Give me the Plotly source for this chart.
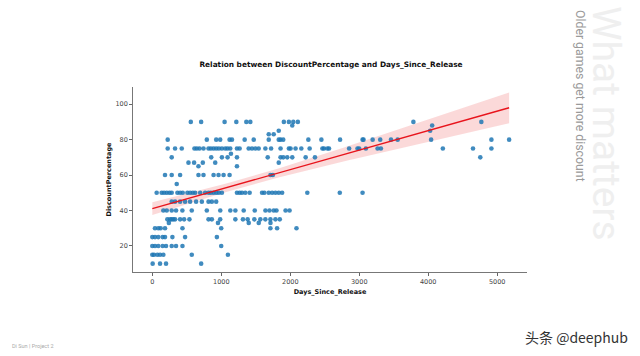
import numpy as np
import plotly.graph_objects as go

# ---- data (days since release, discount %) ----
d90 = [558, 708, 1048, 1218, 1363, 1421, 1907, 1980, 2044, 2110, 3785, 4770]
d88 = [2029, 4057]
d85 = [1833, 4028]
d83 = [1688, 1760]
d80 = [223, 790, 926, 984, 1120, 1155, 1339, 1470, 1688, 1833, 1859, 1898, 2262, 2451,
       2722, 3048, 3062, 3194, 3304, 3460, 3557, 4042, 4916, 5173]
d75 = [223, 330, 427, 611, 645, 684, 742, 815, 849, 888, 926, 965, 1009, 1057, 1091, 1130,
       1227, 1266, 1397, 1445, 1494, 1542, 1639, 1722, 1859, 1980, 2004, 2077, 2160, 2281,
       2466, 2489, 2539, 2562, 2853, 2975, 2999, 3096, 3266, 3314, 4212, 4649, 4916]
d72 = [1140]
d70 = [281, 854, 1009, 1091, 1227, 1673, 1859, 1898, 1956, 2029, 2223, 2358, 4755]
d67 = [524, 606, 732, 912, 1833]
d65 = [669, 1227]
d60 = [184, 281, 403, 669, 742, 888, 960, 1033, 1120, 1713, 1747]
d55 = [354]
d50 = [63, 136, 170, 209, 248, 281, 364, 403, 441, 509, 548, 587, 621, 694, 766, 815, 849,
       888, 926, 965, 1009, 1227, 1266, 1300, 1348, 1411, 1591, 1625, 1688, 1737, 1785,
       1833, 1882, 2247, 2718, 3048]
d45 = [281, 330, 403, 475, 548, 635, 718, 815, 863, 926]
d40 = [160, 209, 281, 344, 436, 572, 790, 985, 1131, 1204, 1325, 1485, 1640, 1699, 1761,
       1800, 1932, 1990]
d35 = [218, 257, 281, 305, 330, 403, 461, 538, 815, 863, 984, 1204, 1314, 1382, 1479,
       1566, 1639, 1712, 1785, 1848]
d33 = [240, 952, 1398, 1543, 1713]
d30 = [39, 87, 121, 184, 437, 999, 1712, 1809, 2090]
d25 = [0, 39, 87, 150, 184, 291, 475, 936]
d20 = [0, 39, 87, 150, 199, 281, 344, 437, 999]
d15 = [0, 24, 73, 112, 160, 572, 1096]
d10 = [5, 112, 199, 708]

groups = [(90, d90), (88, d88), (85, d85), (83, d83), (80, d80), (75, d75), (72, d72),
          (70, d70), (67, d67), (65, d65), (60, d60), (55, d55), (50, d50), (45, d45),
          (40, d40), (35, d35), (33, d33), (30, d30), (25, d25), (20, d20), (15, d15),
          (10, d10)]

x_ticks = [0, 1000, 2000, 3000, 4000, 5000]
y_ticks = [20, 40, 60, 80, 100]

days = np.array([d for v, ds in groups for d in ds], dtype=float)
disc = np.array([v for v, ds in groups for d in ds], dtype=float)

# ---- linear regression with 95% confidence band ----
slope, intercept = np.polyfit(days, disc, 1)
xs = np.linspace(days.min(), days.max(), 100)
ys = intercept + slope * xs
n = len(days)
resid = disc - (intercept + slope * days)
s = np.sqrt(np.sum(resid ** 2) / (n - 2))
sxx = np.sum((days - days.mean()) ** 2)
se = s * np.sqrt(1.0 / n + (xs - days.mean()) ** 2 / sxx)
upper = ys + 1.96 * se
lower = ys - 1.96 * se

fig = go.Figure()
fig.add_trace(go.Scatter(x=xs, y=upper, mode="lines", line=dict(width=0),
                         hoverinfo="skip", showlegend=False))
fig.add_trace(go.Scatter(x=xs, y=lower, mode="lines", line=dict(width=0), fill="tonexty",
                         fillcolor="rgba(230,30,30,0.17)", hoverinfo="skip", showlegend=False))
fig.add_trace(go.Scatter(x=days, y=disc, mode="markers",
                         marker=dict(size=4.6, color="#1f77b4", opacity=0.85, line=dict(width=0)),
                         showlegend=False))
fig.add_trace(go.Scatter(x=xs, y=ys, mode="lines", line=dict(color="#e8141c", width=1.4),
                         showlegend=False))

L, R, T, B = 133, 113, 87, 84
pw, ph = 640 - L - R, 356 - T - B

def px(xp):
    return (xp - L) / pw

def py(yp):
    return (356 - B - yp) / ph

axis_font = dict(family="DejaVu Sans", size=6.5, color="#444")
fig.update_layout(
    width=640, height=356,
    margin=dict(l=L, r=R, t=T, b=B),
    paper_bgcolor="white", plot_bgcolor="white",
    font=dict(family="DejaVu Sans"),
    title=dict(text="<b>Relation between DiscountPercentage and Days_Since_Release</b>",
               xref="paper", x=px(331), xanchor="center", y=1 - 64 / 356, yanchor="middle",
               font=dict(family="DejaVu Sans", size=7.4, color="#111")),
    xaxis=dict(range=[-280, 5432], tickvals=x_ticks, ticks="outside", ticklen=3,
               tickcolor="#666", tickwidth=0.8, showgrid=False, zeroline=False,
               showline=True, linecolor="#777", linewidth=0.8, tickfont=axis_font,
               automargin=False,
               title=dict(text="<b>Days_Since_Release</b>", standoff=4,
                          font=dict(family="DejaVu Sans", size=6.5, color="#111"))),
    yaxis=dict(range=[5.3, 109.7], tickvals=y_ticks, ticks="outside", ticklen=3,
               tickcolor="#666", tickwidth=0.8, showgrid=False, zeroline=False,
               showline=True, linecolor="#777", linewidth=0.8, tickfont=axis_font,
               automargin=False,
               title=dict(text="<b>DiscountPercentage</b>", standoff=3,
                          font=dict(family="DejaVu Sans", size=6.5, color="#111"))),
    annotations=[
        dict(text="What matters", xref="paper", yref="paper", x=px(606), y=py(123),
             xanchor="center", yanchor="middle", textangle=90, showarrow=False,
             font=dict(family="Roboto", size=39, color="#efefef")),
        dict(text="Older games get more discount", xref="paper", yref="paper",
             x=px(580), y=py(96), xanchor="center", yanchor="middle", textangle=90,
             showarrow=False,
             font=dict(family="Roboto", size=12.3, color="#9a9a9a")),
        dict(text="Di Sun | Project 2", xref="paper", yref="paper", x=px(10), y=py(346),
             xanchor="left", yanchor="middle", showarrow=False,
             font=dict(family="Roboto", size=5.5, color="#aaaaaa")),
        dict(text="头条 @deephub", xref="paper", yref="paper", x=px(630), y=py(337),
             xanchor="right", yanchor="middle", showarrow=False,
             font=dict(family="Noto Sans CJK SC", size=14, color="#333333")),
    ],
)

fig.write_html("out.html", config={"displayModeBar": False},
               post_script="document.body.style.margin='0';document.body.style.overflow='hidden';")
